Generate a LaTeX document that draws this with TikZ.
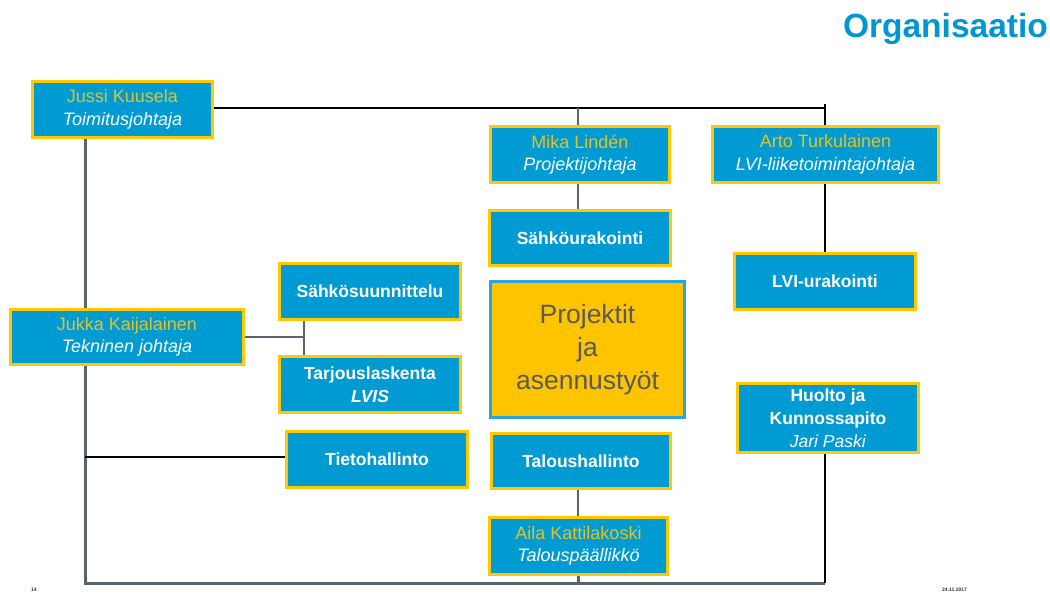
\documentclass[tikz,border=0pt]{standalone}
\usepackage{fontspec}
\setmainfont{Liberation Sans}
\usetikzlibrary{backgrounds}
\definecolor{boxblue}{RGB}{0,155,210}
\definecolor{boxyellow}{RGB}{255,200,0}
\definecolor{nameyellow}{RGB}{225,195,40}
\definecolor{linegrey}{RGB}{90,100,110}
\definecolor{projfill}{RGB}{255,196,0}
\definecolor{projborder}{RGB}{40,165,220}
\definecolor{projtext}{RGB}{90,90,90}
\definecolor{titleblue}{RGB}{0,150,210}
\begin{document}
\begin{tikzpicture}[x=1pt,y=-1pt,
  box/.style={draw=boxyellow, line width=3pt, fill=boxblue, inner sep=0pt,
    align=center, text=white, font=\fontsize{18}{22.5}\selectfont},
  unitbox/.style={box, font=\fontsize{17.5}{23}\selectfont\bfseries},
  projbox/.style={draw=projborder, line width=3pt, fill=projfill, inner sep=0pt,
    align=center, text=projtext, font=\fontsize{26.5}{33}\selectfont},
  blackline/.style={draw=black, line width=2pt},
  greyline/.style={draw=linegrey, line width=3pt},
  footer/.style={font=\fontsize{5}{6}\selectfont\bfseries, text=black!80, inner sep=0pt}
]
\useasboundingbox (0,0) rectangle (1050,594);

\node[font=\fontsize{33.5}{38}\selectfont\bfseries, text=titleblue, anchor=east, inner sep=0pt] (title) at (1048,29) {Organisaatio};

\node[box, minimum width=180, minimum height=56] (jussi) at (122.5,109.5)
  {\textcolor{nameyellow}{Jussi Kuusela}\\\textit{Toimitusjohtaja}};
\node[box, minimum width=179, minimum height=56] (mika) at (580,154.5)
  {\textcolor{nameyellow}{Mika Lindén}\\\textit{Projektijohtaja}};
\node[box, minimum width=226, minimum height=56] (arto) at (825.5,154.5)
  {\textcolor{nameyellow}{Arto Turkulainen}\\\textit{LVI-liiketoimintajohtaja}};
\node[unitbox, minimum width=181, minimum height=55] (sahkour) at (580,238) {Sähköurakointi};
\node[unitbox, minimum width=181, minimum height=56] (lvi) at (825,281.5) {LVI-urakointi};
\node[projbox, minimum width=194, minimum height=136] (proj) at (587.5,349.5)
  {Projektit\\ja\\asennustyöt};
\node[unitbox, minimum width=181, minimum height=56] (sahkos) at (370,291.5) {Sähkösuunnittelu};
\node[box, minimum width=233, minimum height=55] (jukka) at (127,337)
  {\textcolor{nameyellow}{Jukka Kaijalainen}\\\textit{Tekninen johtaja}};
\node[unitbox, minimum width=181, minimum height=56] (tarjous) at (370,384.5)
  {Tarjouslaskenta\\\textit{LVIS}};
\node[unitbox, minimum width=181, minimum height=56] (tieto) at (377,459.5) {Tietohallinto};
\node[unitbox, minimum width=179, minimum height=55] (talous) at (581,461) {Taloushallinto};
\node[box, minimum width=181, minimum height=69, font=\fontsize{17.5}{23}\selectfont] (huolto) at (828,418)
  {\textbf{Huolto ja}\\\textbf{Kunnossapito}\\\textit{Jari Paski}};
\node[box, minimum width=178, minimum height=57] (aila) at (578.5,546)
  {\textcolor{nameyellow}{Aila Kattilakoski}\\\textit{Talouspäällikkö}};

\coordinate (topright) at (825,108);
\coordinate (toptick) at (825,104);
\coordinate (topmika) at (578,108);
\coordinate (leftbottom) at (85,583);
\coordinate (rightbottom) at (825,583);
\coordinate (ailabottom) at (578,583);
\coordinate (tietoleft) at (85,457);
\coordinate (jukkajoin) at (304,337);

\begin{scope}[on background layer]
  % Jussi trunk
  \draw[greyline] (jussi.south -| leftbottom) -- (leftbottom) -- (rightbottom);
  \draw[blackline] (rightbottom) -- (huolto.south -| rightbottom);
  \draw[greyline] (aila.south -| ailabottom) -- (ailabottom);
  % top line
  \draw[blackline] (jussi.east |- topright) -- (topright);
  \draw[blackline] (toptick) -- (arto.north -| toptick);
  \draw[greyline, line width=2pt] (topmika) -- (mika.north -| topmika);
  \draw[greyline, line width=2pt] (mika.south -| topmika) -- (sahkour.north -| topmika);
  \draw[blackline] (arto.south -| topright) -- (lvi.north -| topright);
  % Jukka branch
  \draw[greyline, line width=2.5pt] (jukka.east |- jukkajoin) -- (jukkajoin);
  \draw[greyline, line width=2.5pt] (sahkos.south -| jukkajoin) -- (tarjous.north -| jukkajoin);
  % Tietohallinto
  \draw[blackline] (tietoleft) -- (tieto.west |- tietoleft);
  % Talous
  \draw[greyline, line width=2pt] (talous.south -| topmika) -- (aila.north -| topmika);
\end{scope}

\node[footer, anchor=west] (pagenum) at (31,590) {14};
\node[footer, anchor=west] (date) at (942,590) {24.11.2017};
\end{tikzpicture}
\end{document}
